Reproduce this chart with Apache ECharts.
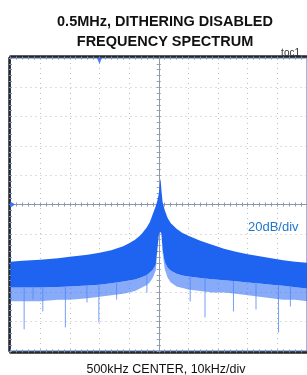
<!DOCTYPE html>
<html>
<head>
<meta charset="utf-8">
<script src="https://cdn.jsdelivr.net/npm/echarts@6/dist/echarts.min.js"></script>
<style>
html, body { margin: 0; padding: 0; background: #fff; }
#main { width: 307px; height: 375px; }
</style>
</head>
<body>
<div id="main"></div>
<script>
// offset from the 500kHz centre, kHz (10kHz/div)
var freqOffset = [-50, -46, -40, -34, -30, -24, -20, -16, -12, -10, -8, -6, -4, -3, -2, -1, -0.5,
  0, 0.3, 0.6, 0.9, 1.3, 2, 3, 4, 6, 8, 10, 14, 18, 22, 26, 30, 34, 38, 42, 46, 50];
// dB relative to the centre graticule line (20dB/div)
var upperDb = [-39.0, -38.4, -37.7, -36.7, -35.6, -34.3, -32.9, -31.2, -28.5, -26.5, -24.1, -20.7, -15.6, -11.9, -6.5, -1.0, 2.4,
  7.1, 12.6, 18.0, 9.8, 1.7, -3.7, -9.2, -12.6, -16.6, -19.4, -21.4, -24.8, -27.5, -30.2, -32.3, -34.0, -35.3, -36.7, -38.0, -39.0, -39.7];
var denseLowDb = [-56.7, -56.7, -56.7, -56.3, -56.0, -55.3, -54.7, -53.8, -52.6, -51.9, -51.2, -49.9, -48.2, -46.5, -44.5, -41.1, -30.9,
  -21.4, -18.7, -18.7, -20.0, -30.9, -39.0, -43.1, -45.0, -47.2, -48.4, -49.2, -50.2, -51.0, -51.7, -52.4, -53.3, -54.0, -54.8, -55.5, -56.4, -57.4];
var faintLowDb = [-66, -66, -66, -65, -65, -64, -63, -62, -61, -60, -59, -57, -55, -53, -50, -45, -33,
  -22, -19, -19, -21, -33, -44, -50, -53, -56, -57, -58, -59, -60, -60, -61, -62, -63, -64, -65, -65, -66];
// deep single-bin dips: [offset kHz, from dB, to dB]
var dips = [
  [-45.4, -56, -85.2], [-42.4, -56, -64.9], [-39.1, -56, -73.0], [-31.5, -56, -83.9],
  [-24.2, -55, -66.9], [-20.2, -54, -80.5], [-14.2, -53, -64.9], [-4.0, -48, -60.1],
  [10.6, -49, -66.2], [15.6, -50, -77.1], [25.2, -52, -73.0], [32.8, -53, -71.7],
  [40.4, -55, -87.3], [44.4, -56, -69.6]
];
// instrument markers: reference level (left edge) and marker at top
var markers = [
  { value: [-50, 0], symbol: 'triangle', symbolRotate: -90, symbolSize: [7, 5], symbolOffset: [2, 0] },
  { value: [-20, 100], symbol: 'triangle', symbolRotate: 180, symbolSize: [5, 6], symbolOffset: [0, 3] }
];

var chartDom = document.getElementById('main');
var myChart = echarts.init(chartDom);
var option;

var tickColor = '#7f93bf';
var borderColor = '#262626';
var crossColor = '#8c99ad';

function bandPolygon (topArr, lowArr, color) {
  return {
    type: 'custom',
    clip: true,
    silent: true,
    data: [[0, 0]],
    renderItem: function (params, api) {
      var pts = [];
      for (var i = 0; i < freqOffset.length; i++) {
        pts.push(api.coord([freqOffset[i], topArr[i]]));
      }
      for (var j = freqOffset.length - 1; j >= 0; j--) {
        pts.push(api.coord([freqOffset[j], lowArr[j]]));
      }
      return { type: 'polygon', shape: { points: pts }, style: { fill: color } };
    }
  };
}

function borderAxis (pos, extra) {
  var a = {
    type: 'value',
    min: -50,
    max: 50,
    interval: 10,
    position: pos,
    offset: 1.5,
    axisLine: { show: true, onZero: false, lineStyle: { color: borderColor, width: 2.5 } },
    axisTick: { show: true, inside: true, length: 3, lineStyle: { color: tickColor } },
    minorTick: { show: true, splitNumber: 5, length: 3, lineStyle: { color: tickColor } },
    axisLabel: { show: false },
    splitLine: { show: false }
  };
  return Object.assign(a, extra || {});
}

function crossAxis (pos, range) {
  return {
    type: 'value',
    min: -range,
    max: range,
    interval: range / 5,
    position: pos,
    axisLine: { show: true, onZero: true, lineStyle: { color: crossColor, width: 1 } },
    axisTick: { show: true, length: 2, lineStyle: { color: crossColor } },
    minorTick: { show: true, splitNumber: 5, length: 2, lineStyle: { color: crossColor } },
    axisLabel: { show: false },
    splitLine: { show: false }
  };
}

var gridSplit = { show: true, lineStyle: { color: '#bdbdbd', type: [1, 4], width: 1 } };

option = {
  animation: false,
  title: [
    {
      text: '0.5MHz, DITHERING DISABLED\nFREQUENCY SPECTRUM',
      left: 160,
      top: 7,
      textAlign: 'center',
      textStyle: {
        fontFamily: "'Liberation Sans', Arial, sans-serif",
        fontSize: 14.5,
        fontWeight: 'bold',
        lineHeight: 20,
        color: '#111'
      }
    },
    {
      text: 'toc1',
      right: 2,
      top: 43,
      textStyle: { fontFamily: "'Liberation Sans', Arial, sans-serif", fontSize: 10, fontWeight: 'normal', color: '#333' }
    },
    {
      text: '20dB/div',
      left: 243,
      top: 216,
      textStyle: { fontFamily: "'Liberation Sans', Arial, sans-serif", fontSize: 13, fontWeight: 'normal', color: '#1f78cc' }
    },
    {
      text: '500kHz CENTER, 10kHz/div',
      left: 161,
      top: 358,
      textAlign: 'center',
      textStyle: { fontFamily: "'Liberation Sans', Arial, sans-serif", fontSize: 12.5, fontWeight: 'normal', color: '#111' }
    }
  ],
  grid: {
    left: 10.5,
    right: -5.5,
    top: 58,
    bottom: 24,
    show: true,
    borderColor: '#3f6fd2',
    borderWidth: 1,
    backgroundColor: 'transparent'
  },
  xAxis: [
    borderAxis('bottom', { splitLine: gridSplit }),
    borderAxis('top'),
    crossAxis('bottom', 50),
    crossAxis('top', 50)
  ],
  yAxis: [
    borderAxis('left', { min: -100, max: 100, interval: 20, splitLine: gridSplit }),
    crossAxis('left', 100),
    crossAxis('right', 100)
  ],
  series: [
    bandPolygon(denseLowDb, faintLowDb, 'rgba(55, 115, 245, 0.6)'),
    bandPolygon(upperDb, denseLowDb, '#1f64f0'),
    {
      type: 'custom',
      clip: true,
      silent: true,
      data: dips,
      renderItem: function (params, api) {
        var p1 = api.coord([api.value(0), api.value(1)]);
        var p2 = api.coord([api.value(0), api.value(2)]);
        return {
          type: 'line',
          shape: { x1: p1[0], y1: p1[1], x2: p2[0], y2: p2[1] },
          style: { stroke: 'rgba(80, 135, 245, 0.8)', lineWidth: 1 }
        };
      }
    },
    {
      type: 'scatter',
      clip: false,
      silent: true,
      z: 5,
      data: markers,
      itemStyle: { color: '#1f64f0' }
    }
  ]
};

option && myChart.setOption(option);

window.addEventListener('resize', () => {
  myChart.resize();
});
</script>
</body>
</html>
